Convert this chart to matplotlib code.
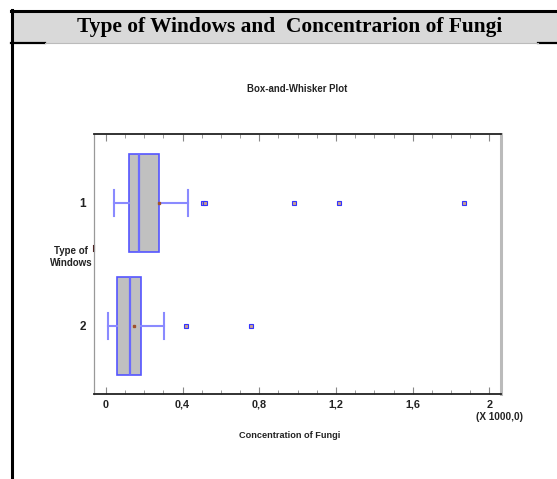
import matplotlib
matplotlib.use("Agg")
import matplotlib.pyplot as plt
from matplotlib.ticker import MultipleLocator, FixedLocator
from matplotlib.lines import Line2D
from matplotlib.patches import Rectangle

# ---- data (in thousands) ----
categories = ["1", "2"]
q1 = [0.122, 0.059]
median = [0.172, 0.124]
q3 = [0.277, 0.181]
whisker_low = [0.040, 0.010]
whisker_high = [0.426, 0.304]
means = [0.278, 0.148]
outliers = [[0.506, 0.516, 0.982, 1.217, 1.869], [0.416, 0.757]]
xticks = [0, 0.4, 0.8, 1.2, 1.6, 2.0]
xtick_labels = ["0", "0,4", "0,8", "1,2", "1,6", "2"]

W, H = 557, 479
fig = plt.figure(figsize=(W / 100, H / 100), dpi=100)

def fx(px):
    return px / W

def fy(py):
    return 1 - py / H

NARROW = ["Liberation Sans Narrow", "Liberation Sans"]

# ---- frame / header ----
fig.patches.append(Rectangle((fx(11), fy(43)), fx(557) - fx(11), fy(10) - fy(43),
                             transform=fig.transFigure, facecolor="#d9d9d9",
                             edgecolor="none", zorder=0))
fig.lines.append(Line2D([fx(11), fx(557)], [fy(10.5), fy(10.5)], transform=fig.transFigure,
                        color="black", lw=2.2))
fig.lines.append(Line2D([fx(11.5), fx(11.5)], [fy(10), fy(479)], transform=fig.transFigure,
                        color="black", lw=2.2))
fig.lines.append(Line2D([fx(11), fx(45)], [fy(43.5), fy(43.5)], transform=fig.transFigure,
                        color="black", lw=1.6))
fig.lines.append(Line2D([fx(538), fx(557)], [fy(43.5), fy(43.5)], transform=fig.transFigure,
                        color="black", lw=1.6))
fig.lines.append(Line2D([fx(45), fx(538)], [fy(43.3), fy(43.3)], transform=fig.transFigure,
                        color="#bbbbbb", lw=0.8))

fig.text(fx(290), fy(27), "Type of Windows and  Concentrarion of Fungi",
         ha="center", va="center", fontsize=15.4, fontweight="bold",
         family=["Liberation Serif", "DejaVu Serif"])
fig.text(fx(297), fy(89), "Box-and-Whisker Plot", ha="center", va="center",
         fontsize=6.9, fontweight="bold", family=NARROW, color="#222222")

# ---- axes ----
ax = fig.add_axes([fx(94), fy(394), fx(500.7) - fx(94), fy(134) - fy(394)])

stats = []
for i, c in enumerate(categories):
    stats.append(dict(label=c, q1=q1[i], med=median[i], q3=q3[i],
                      whislo=whisker_low[i], whishi=whisker_high[i],
                      mean=means[i], fliers=outliers[i]))

positions = [1, 2]
box_edge = "#5555ff"
whisk = "#8a8aff"
ax.bxp(stats, positions=positions, orientation="horizontal", widths=0.8,
       patch_artist=True, showmeans=True, showfliers=True,
       boxprops=dict(facecolor="#c0c0c0", edgecolor=box_edge, lw=1.2),
       medianprops=dict(color="#6a6aff", lw=1.6),
       whiskerprops=dict(color=whisk, lw=1.5),
       capprops=dict(color=whisk, lw=1.5),
       meanprops=dict(marker="s", markersize=2, markerfacecolor="#a0522d",
                      markeredgecolor="#a0522d"),
       flierprops=dict(marker="s", markersize=3, markerfacecolor="#c8a090",
                       markeredgecolor="#3333ff", markeredgewidth=0.8),
       capwidths=0.21)

ax.set_xlim(-0.062, 2.059)
ax.set_ylim(2.555, 0.441)

ax.xaxis.set_major_locator(FixedLocator(xticks))
ax.set_xticklabels(xtick_labels)
ax.xaxis.set_minor_locator(MultipleLocator(0.1))
ax.tick_params(axis="x", which="major", direction="in", length=5, width=0.8,
               color="#888888", top=True, bottom=True, labelsize=7.8, pad=4)
ax.tick_params(axis="x", which="minor", direction="in", length=3, width=0.7,
               color="#999999", top=True, bottom=True)
for lab in ax.get_xticklabels():
    lab.set_fontweight("bold")
    lab.set_family(NARROW)
    lab.set_color("#222222")

ax.set_yticks(positions)
ax.set_yticklabels(categories)
ax.tick_params(axis="y", length=0, labelsize=8.5, pad=6)
for lab in ax.get_yticklabels():
    lab.set_fontweight("bold")
    lab.set_family(NARROW)
    lab.set_color("#222222")

ax.spines["bottom"].set_color("#222222")
ax.spines["bottom"].set_linewidth(1.3)
ax.spines["top"].set_color("#222222")
ax.spines["top"].set_linewidth(1.3)
ax.spines["left"].set_color("#999999")
ax.spines["left"].set_linewidth(0.9)
ax.spines["right"].set_color("#bbbbbb")
ax.spines["right"].set_linewidth(2.2)

# small dark mark on the left spine
ax.plot([0, 0], [0.55, 0.57], transform=ax.transAxes, color="#401010", lw=1.5,
        clip_on=False)

fig.text(fx(290), fy(436), "Concentration of Fungi", ha="center", va="center",
         fontsize=6.6, fontweight="bold", family=NARROW, color="#222222")
fig.text(fx(500), fy(417), "(X 1000,0)", ha="center", va="center",
         fontsize=7.2, fontweight="bold", family=NARROW, color="#222222")
fig.text(fx(71), fy(257), "Type of\nWindows", ha="center", va="center",
         fontsize=7, fontweight="bold", family=NARROW,
         color="#222222", linespacing=1.15)

fig.savefig("out.png", dpi=100)
